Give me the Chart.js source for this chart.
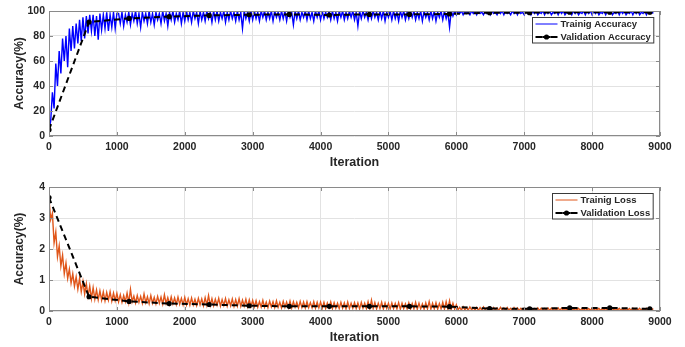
<!DOCTYPE html>
<html><head><meta charset="utf-8">
<script src="https://cdn.jsdelivr.net/npm/chart.js@4/dist/chart.umd.min.js"></script>
<style>
html,body{margin:0;padding:0;background:#fff;}
#w{position:relative;width:685px;height:347px;overflow:hidden;}
.c{position:absolute;left:0;width:685px;}
</style></head><body>
<div id="w">
<div class="c" style="top:0;height:174px"><canvas id="c1"></canvas></div>
<div class="c" style="top:175px;height:172px"><canvas id="c2"></canvas></div>
</div>
<script>
// ---------- DATA ----------
const TRAIN_STEP = 25; // iterations between training samples
const trainAcc = [
5,12,35,22,58,40,68,50,78,60,80,55,86,68,88,70,90,74,93,76,95,78,96,82,97,
84,97,80,96,77,98,85,97,86,99,84,97,87,99,86,98,
98,90,99,88,97,91,99,89,98,92,100,90,98,87,99,92,98,90,100,91,98,89,99,93,98,90,100,92,98,88,99,93,100,91,98,93,100,90,99,92,
100,93,99,91,100,94,99,90,100,93,99,92,100,94,99,91,100,93,100,92,99,94,100,91,99,93,100,94,99,92,100,93,99,86,100,94,99,92,100,93,
100,94,99,92,100,95,100,93,99,94,100,92,100,95,99,93,100,94,100,92,100,95,99,89,100,94,100,93,99,95,100,93,100,94,99,92,100,95,100,93,
100,94,99,95,100,93,100,94,99,92,100,95,100,93,99,94,100,95,100,93,99,88,100,94,100,95,99,93,100,94,100,95,99,93,100,94,100,92,99,95,
100,93,100,94,99,92,100,95,100,93,99,94,100,95,100,93,99,94,100,92,100,95,99,93,100,94,100,92,99,95,100,93,100,94,99,87,100,96,100,97,
100,98,100,97,100,98,99,97,100,98,100,97,100,98,99,97,100,98,100,97,100,98,99,97,100,98,100,97,100,98,99,97,100,98,100,97,100,98,99,97,
100,98,100,97,100,98,100,97,99,98,100,97,100,98,100,97,99,98,100,97,100,98,100,97,99,98,100,97,100,98,100,97,99,98,100,97,100,98,100,97,
100,98,100,97,99,98,100,97,100,98,100,97,99,98,100,97,100,98,100,97,99,98,100,97,100,98,100,97,99,98,100,97,100,98,100,98
];
const trainLoss = [
3.6,2.95,3.15,2.2,2.55,1.75,2.1,1.45,1.8,1.2,1.55,1.05,1.35,0.9,1.2,0.8,1.1,0.7,1.05,0.62,0.95,0.55,0.88,0.48,0.8,
0.4,0.75,0.38,0.68,0.36,0.65,0.35,0.62,0.33,0.6,0.35,0.62,0.32,0.58,0.33,0.57,
0.3,0.52,0.28,0.5,0.3,0.58,0.27,0.7,0.3,0.48,0.26,0.5,0.28,0.47,0.25,0.55,0.27,0.46,0.24,0.5,0.25,0.44,0.23,0.47,0.25,0.45,0.22,0.52,0.24,0.43,0.22,0.46,0.23,0.42,0.21,0.45,0.22,0.41,0.2,0.44,
0.2,0.4,0.19,0.42,0.2,0.38,0.18,0.41,0.2,0.39,0.17,0.43,0.19,0.5,0.18,0.4,0.17,0.38,0.19,0.41,0.16,0.37,0.18,0.4,0.16,0.36,0.17,0.39,0.15,0.37,0.16,0.4,0.15,0.35,0.16,0.38,0.14,0.36,0.15,0.34,
0.14,0.33,0.12,0.3,0.13,0.34,0.12,0.29,0.11,0.32,0.13,0.3,0.11,0.33,0.12,0.28,0.1,0.31,0.12,0.29,0.11,0.32,0.1,0.3,0.12,0.28,0.1,0.31,0.11,0.29,0.1,0.3,0.11,0.27,0.1,0.3,0.09,0.28,0.1,0.29,
0.09,0.28,0.08,0.26,0.1,0.29,0.08,0.27,0.09,0.25,0.08,0.28,0.09,0.26,0.07,0.29,0.08,0.25,0.09,0.27,0.08,0.26,0.07,0.28,0.09,0.25,0.08,0.3,0.07,0.35,0.08,0.27,0.07,0.25,0.08,0.28,0.07,0.26,0.08,0.25,
0.07,0.26,0.08,0.24,0.07,0.27,0.06,0.25,0.08,0.23,0.07,0.26,0.06,0.24,0.07,0.28,0.06,0.25,0.07,0.23,0.06,0.26,0.07,0.3,0.06,0.25,0.07,0.27,0.06,0.24,0.07,0.28,0.06,0.3,0.06,0.33,0.05,0.25,0.06,0.2,
0.04,0.12,0.03,0.14,0.04,0.11,0.03,0.13,0.04,0.1,0.03,0.12,0.02,0.11,0.03,0.13,0.04,0.1,0.03,0.12,0.02,0.11,0.03,0.1,0.02,0.12,0.03,0.1,0.02,0.11,0.03,0.09,0.02,0.11,0.03,0.1,0.02,0.09,0.03,0.1,
0.02,0.09,0.03,0.1,0.02,0.08,0.03,0.1,0.02,0.09,0.02,0.08,0.03,0.1,0.02,0.09,0.02,0.08,0.03,0.1,0.02,0.09,0.02,0.08,0.03,0.09,0.02,0.1,0.02,0.08,0.03,0.09,0.02,0.08,0.02,0.09,0.03,0.08,0.02,0.09,
0.02,0.08,0.03,0.09,0.02,0.08,0.02,0.09,0.03,0.08,0.02,0.09,0.02,0.08,0.03,0.09,0.02,0.08,0.02,0.09,0.03,0.08,0.02,0.09,0.02,0.08,0.03,0.09,0.02,0.08,0.02,0.09,0.03,0.08,0.02,0.08
];
const valIter = [0,590,1180,1770,2360,2950,3540,4130,4720,5310,5900,6490,7080,7670,8260,8850];
const valAcc  = [5,91.2,94.1,95.5,96.5,97,97.3,96.8,97.3,97.3,97.6,98.7,98.7,99,99,99];
const valLoss = [3.66,0.46,0.31,0.24,0.21,0.17,0.15,0.15,0.15,0.15,0.14,0.08,0.07,0.1,0.1,0.07];
const iterTicks = [0,1000,2000,3000,4000,5000,6000,7000,8000,9000];
const accTicks  = [0,20,40,60,80,100];
const lossTicks = [0,1,2,3,4];
const labels = {
  trainAcc: 'Trainig Accuracy', valAcc: 'Validation Accuracy',
  trainLoss: 'Trainig Loss', valLoss: 'Validation Loss',
  x: 'Iteration', y: 'Accuracy(%)'
};

// ---------- RENDER ----------
const FONT = '"Liberation Sans", Arial, Helvetica, sans-serif';
const TXT = '#262626';

const framePlugin = {
  id: 'frame',
  afterDatasetsDraw(chart) {
    const {ctx, chartArea: a} = chart;
    const xs = chart.scales.x, ys = chart.scales.y;
    ctx.save();
    ctx.strokeStyle = '#8a8a8a';
    ctx.lineWidth = 1;
    ctx.setLineDash([]);
    ctx.beginPath();
    xs.ticks.forEach(t => {
      const px = Math.round(xs.getPixelForValue(t.value)) + 0.5;
      ctx.moveTo(px, a.top); ctx.lineTo(px, a.top + 4);
      ctx.moveTo(px, a.bottom); ctx.lineTo(px, a.bottom - 4);
    });
    ys.ticks.forEach(t => {
      const py = Math.round(ys.getPixelForValue(t.value)) + 0.5;
      ctx.moveTo(a.left, py); ctx.lineTo(a.left + 4, py);
      ctx.moveTo(a.right, py); ctx.lineTo(a.right - 4, py);
    });
    ctx.stroke();
    ctx.strokeRect(Math.round(a.left) + 0.5, Math.round(a.top) + 0.5,
                   Math.round(a.right - a.left) - 1, Math.round(a.bottom - a.top) - 1);

    // legend box
    const ds = chart.data.datasets;
    ctx.font = 'bold 9.5px ' + FONT;
    const tw = Math.max(...ds.map(d => ctx.measureText(d.label).width));
    const bw = 3 + 22 + 3 + tw + 3, bh = 25.5;
    const bx = Math.round(a.right - 7 - bw) + 0.5, by = Math.round(a.top + 6) + 0.5;
    ctx.fillStyle = '#fff';
    ctx.fillRect(bx, by, bw, bh);
    ctx.strokeStyle = '#3a3a3a';
    ctx.lineWidth = 1;
    ctx.strokeRect(bx, by, bw, bh);
    ds.forEach((d, i) => {
      const ry = Math.round(by + 6.5 + i * 13.4);
      const x0 = bx + 3, x1 = bx + 25;
      ctx.strokeStyle = d.borderColor;
      ctx.lineWidth = d.borderDash ? 2 : 1;
      ctx.beginPath();
      if (d.borderDash) {
        ctx.moveTo(x0, ry); ctx.lineTo(x0 + 7, ry);
        ctx.moveTo(x1 - 7, ry); ctx.lineTo(x1, ry);
      } else {
        ctx.moveTo(x0, ry); ctx.lineTo(x1, ry);
      }
      ctx.stroke();
      if (d.pointRadius) {
        ctx.fillStyle = d.pointBackgroundColor;
        ctx.beginPath(); ctx.arc((x0 + x1) / 2, ry, d.pointRadius, 0, Math.PI * 2); ctx.fill();
        ctx.lineWidth = 2;
        ctx.beginPath(); ctx.moveTo(x0 + 7, ry); ctx.lineTo(x1 - 7, ry); ctx.stroke();
      }
      ctx.fillStyle = TXT;
      ctx.textBaseline = 'middle';
      ctx.textAlign = 'left';
      ctx.fillText(d.label, x1 + 3, ry + 0.5);
    });
    ctx.restore();
  }
};

function makeChart(id, trainVals, valVals, trainLabel, valLabel, trainColor, yMax, yTicks, padTop, xAxisH) {
  return new Chart(document.getElementById(id), {
    type: 'line',
    data: {
      datasets: [
        {
          label: trainLabel,
          data: trainVals.map((y, i) => ({x: i * TRAIN_STEP, y})),
          borderColor: trainColor, borderWidth: 1.4, pointRadius: 0, tension: 0, order: 1
        },
        {
          label: valLabel,
          data: valVals.map((y, i) => ({x: valIter[i], y})),
          borderColor: '#000', borderWidth: 2, borderDash: [6, 4],
          pointRadius: 2.6, pointBackgroundColor: '#000', pointBorderColor: '#000',
          pointBorderWidth: 0, tension: 0, order: 0
        }
      ]
    },
    options: {
      responsive: true, maintainAspectRatio: false, animation: false, devicePixelRatio: 1,
      layout: {padding: {top: padTop, right: 25, left: 0, bottom: 0}},
      plugins: {legend: {display: false}, tooltip: {enabled: false}},
      scales: {
        x: {
          type: 'linear', min: 0, max: 9000,
          afterBuildTicks: s => { s.ticks = iterTicks.map(v => ({value: v})); },
          afterFit: s => { s.height = xAxisH; },
          grid: {color: '#e2e2e2', drawTicks: false},
          border: {display: false},
          ticks: {padding: 5, color: TXT, font: {family: FONT, size: 10.5, weight: 'bold'},
                  maxRotation: 0, callback: v => String(v)},
          title: {display: true, text: labels.x, color: TXT,
                  font: {family: FONT, size: 12.5, weight: 'bold'}, padding: {top: 0, bottom: id === 'c1' ? 4 : 2}}
        },
        y: {
          min: 0, max: yMax,
          afterBuildTicks: s => { s.ticks = yTicks.map(v => ({value: v})); },
          afterFit: s => { s.width = 49; },
          grid: {color: '#e2e2e2', drawTicks: false},
          border: {display: false},
          ticks: {padding: 4, color: TXT, font: {family: FONT, size: 10.5, weight: 'bold'},
                  callback: v => String(v)},
          title: {display: true, text: labels.y, color: TXT,
                  font: {family: FONT, size: 12, weight: 'bold'}, padding: {top: 12, bottom: 0}}
        }
      }
    },
    plugins: [framePlugin]
  });
}

makeChart('c1', trainAcc, valAcc, labels.trainAcc, labels.valAcc, '#0000ff', 100, accTicks, 11, 38);
makeChart('c2', trainLoss, valLoss, labels.trainLoss, labels.valLoss, '#e0561a', 4, lossTicks, 12, 36);
</script>
</body></html>
